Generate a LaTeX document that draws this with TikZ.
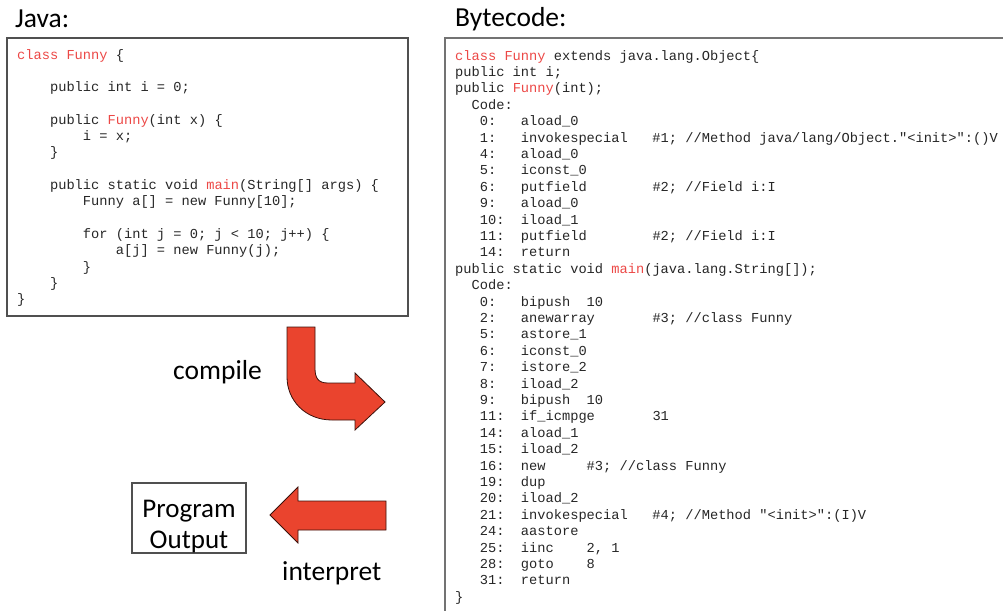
\documentclass[tikz,border=0pt]{standalone}
\usepackage{fontspec}
\setmainfont{Carlito}
\setmonofont{Liberation Mono}
\definecolor{kwred}{RGB}{236,72,70}
\definecolor{arrowred}{RGB}{234,68,46}
\definecolor{framegray}{RGB}{80,80,80}
\newcommand{\kw}[1]{\textcolor{kwred}{#1}}

\begin{document}
\begin{tikzpicture}[x=1pt, y=-1pt,
  code/.style={anchor=north west, inner sep=0pt, align=left, text=black!85,
    font=\ttfamily\fontsize{13.7}{16.3}\selectfont\frenchspacing},
  title/.style={anchor=base west, inner sep=0pt, font=\fontsize{27.5}{32}\selectfont},
  bigarrow/.style={fill=arrowred, draw=black!75!arrowred, line width=0.8pt}]
\useasboundingbox (0,0) rectangle (1003,611);

% Java
\node[title] (javalabel) at (15,27) {Java:};
\draw[framegray, line width=1.8pt] (7,38) rectangle (408,316);
\node[code] (javacode) at (17,49) {%
\kw{class Funny} \{\\
~\\
~~~~public int i = 0;\\
~\\
~~~~public \kw{Funny}(int x) \{\\
~~~~~~~~i = x;\\
~~~~\}\\
~\\
~~~~public static void \kw{main}(String[] args) \{\\
~~~~~~~~Funny a[] = new Funny[10];\\
~\\
~~~~~~~~for (int j = 0; j < 10; j++) \{\\
~~~~~~~~~~~~a[j] = new Funny(j);\\
~~~~~~~~\}\\
~~~~\}\\
\}};

% Bytecode (la caja sigue fuera del dibujo)
\node[title] (bytelabel) at (455,26) {Bytecode:};
\draw[framegray!80, line width=2pt] (1003,38) -| (445,611);
\node[code, font=\ttfamily\fontsize{13.7}{16.4}\selectfont\frenchspacing] (bytecode) at (455,50) {%
\kw{class Funny} extends java.lang.Object\{\\
public int i;\\
public \kw{Funny}(int);\\
~~Code:\\
~~~0:~~~aload\_0\\
~~~1:~~~invokespecial~~~\#1; //Method java/lang/Object."<init>":()V\\
~~~4:~~~aload\_0\\
~~~5:~~~iconst\_0\\
~~~6:~~~putfield~~~~~~~~\#2; //Field i:I\\
~~~9:~~~aload\_0\\
~~~10:~~iload\_1\\
~~~11:~~putfield~~~~~~~~\#2; //Field i:I\\
~~~14:~~return\\
public static void \kw{main}(java.lang.String[]);\\
~~Code:\\
~~~0:~~~bipush~~10\\
~~~2:~~~anewarray~~~~~~~\#3; //class Funny\\
~~~5:~~~astore\_1\\
~~~6:~~~iconst\_0\\
~~~7:~~~istore\_2\\
~~~8:~~~iload\_2\\
~~~9:~~~bipush~~10\\
~~~11:~~if\_icmpge~~~~~~~31\\
~~~14:~~aload\_1\\
~~~15:~~iload\_2\\
~~~16:~~new~~~~~\#3; //class Funny\\
~~~19:~~dup\\
~~~20:~~iload\_2\\
~~~21:~~invokespecial~~~\#4; //Method "<init>":(I)V\\
~~~24:~~aastore\\
~~~25:~~iinc~~~~2, 1\\
~~~28:~~goto~~~~8\\
~~~31:~~return\\
\}};

% Flecha curva: compile
\draw[bigarrow] (287,327) -- (315,327) -- (315,368)
  .. controls (315,378) and (318,383) .. (328,383)
  -- (355,383) -- (355,373) -- (385,402) -- (355,430) -- (355,420)
  -- (332,420) .. controls (305,420) and (287,400) .. (287,377) -- cycle;
\node[title] (compile) at (173,379) {compile};

% Flecha recta: interpret
\draw[bigarrow] (386,501) -- (298,501) -- (298,487) -- (270,515)
  -- (298,543) -- (298,530) -- (386,530) -- cycle;
\node[title] (interpret) at (282,580) {interpret};

% Salida
\node[draw=framegray, line width=1.3pt, minimum width=114, minimum height=70, inner sep=0pt] (outbox) at (189,518) {};
\node[align=center, inner sep=0pt, font=\fontsize{27}{31}\selectfont] (output) at (189,527) {Program\\Output};
\end{tikzpicture}
\end{document}
